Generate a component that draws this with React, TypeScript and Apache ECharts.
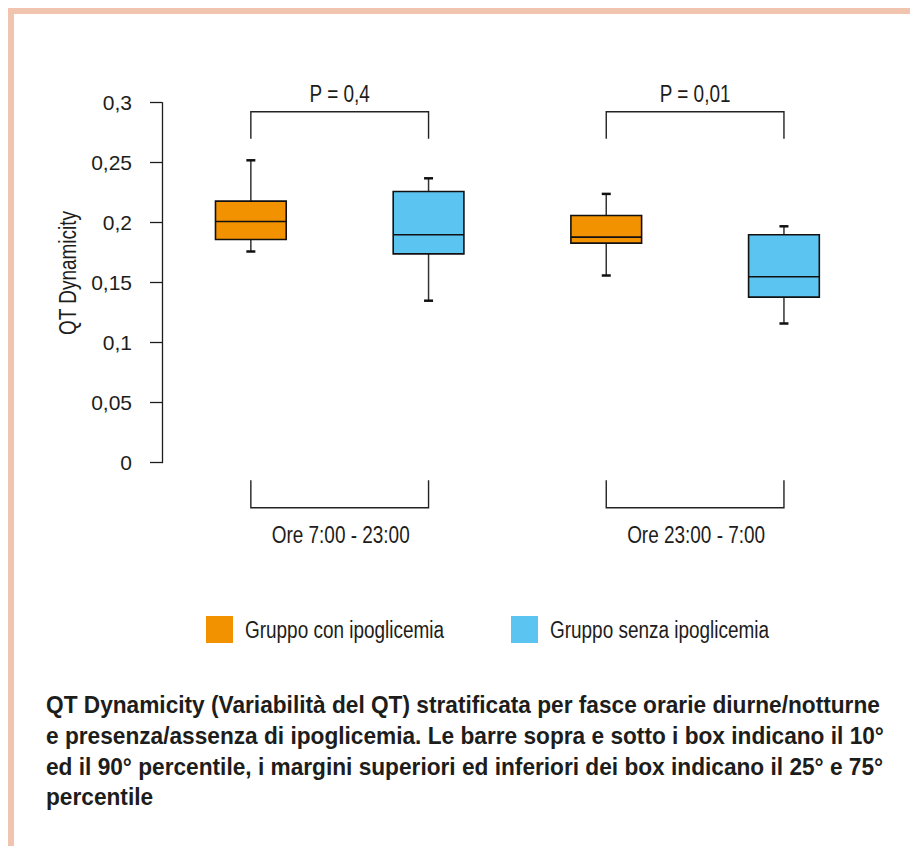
import React, { useEffect, useRef } from "react";
import * as echarts from "echarts";

const FAMILY = "'Liberation Sans', Arial, sans-serif";
const REG_FONT = `23px ${FAMILY}`;
const BOLD_FONT = `bold 23px ${FAMILY}`;
const INK = "#1d1d1b";

// Box slots on the category axis (one box per slot)
const boxSlots = ["7-23 con", "7-23 senza", "23-7 con", "23-7 senza"];
// Time-band group labels (one per pair of slots)
const periods = ["Ore 7:00 - 23:00", "Ore 23:00 - 7:00"];
const groups = ["Gruppo con ipoglicemia", "Gruppo senza ipoglicemia"];
const groupColors = ["#f39200", "#5bc4f1"];

// Gruppo con ipoglicemia (slots 0 and 2)
const conSlots = [0, 2];
const conP10 = [0.176, 0.156];
const conQ1 = [0.186, 0.183];
const conMedian = [0.201, 0.188];
const conQ3 = [0.218, 0.206];
const conP90 = [0.252, 0.224];

// Gruppo senza ipoglicemia (slots 1 and 3)
const senzaSlots = [1, 3];
const senzaP10 = [0.135, 0.116];
const senzaQ1 = [0.174, 0.138];
const senzaMedian = [0.19, 0.155];
const senzaQ3 = [0.226, 0.19];
const senzaP90 = [0.237, 0.197];

// Significance brackets (pairs of slots) and their labels
const bracketPairs = [
  [0, 1],
  [2, 3],
];
const pValues = ["P = 0,4", "P = 0,01"];
const bracketLevel = 0.2925;
const bracketFoot = 0.27;

const captionLines = [
  "QT Dynamicity (Variabilità del QT) stratificata per fasce orarie diurne/notturne",
  "e presenza/assenza di ipoglicemia. Le barre sopra e sotto i box indicano il 10°",
  "ed il 90° percentile, i margini superiori ed inferiori dei box indicano il 25° e 75°",
  "percentile",
];

const yMin = 0;
const yMax = 0.3;
const yStep = 0.05;

function textWidth(text: string, font: string): number {
  const ctx = document.createElement("canvas").getContext("2d");
  if (!ctx) return text.length * 10;
  ctx.font = font;
  return ctx.measureText(text).width;
}

function buildRows(slots: number[], p10: number[], q1: number[], med: number[], q3: number[], p90: number[]) {
  return slots.map((s, i) => [s, p10[i], q1[i], med[i], q3[i], p90[i]]);
}

function renderBox(color: string) {
  return (params: any, api: any) => {
    const x = api.value(0);
    const lo = api.coord([x, api.value(1)]);
    const q1 = api.coord([x, api.value(2)]);
    const md = api.coord([x, api.value(3)]);
    const q3 = api.coord([x, api.value(4)]);
    const hi = api.coord([x, api.value(5)]);
    const w = api.size([1, 0])[0] * 0.398;
    const cx = md[0];
    const cap = 4.5;
    return {
      type: "group",
      children: [
        { type: "line", shape: { x1: cx, y1: hi[1], x2: cx, y2: lo[1] }, style: { stroke: "#333", lineWidth: 1.5 } },
        { type: "line", shape: { x1: cx - cap, y1: hi[1], x2: cx + cap, y2: hi[1] }, style: { stroke: "#111", lineWidth: 2.5 } },
        { type: "line", shape: { x1: cx - cap, y1: lo[1], x2: cx + cap, y2: lo[1] }, style: { stroke: "#111", lineWidth: 2.5 } },
        {
          type: "rect",
          shape: { x: cx - w / 2, y: q3[1], width: w, height: q1[1] - q3[1] },
          style: { fill: color, stroke: "#111", lineWidth: 1.6 },
        },
        { type: "line", shape: { x1: cx - w / 2, y1: md[1], x2: cx + w / 2, y2: md[1] }, style: { stroke: "#111", lineWidth: 1.6 } },
      ],
    };
  };
}

export default function App() {
  const ref = useRef<HTMLDivElement>(null);
  useEffect(() => {
    const chart = echarts.init(ref.current!, null, { renderer: "svg" });
    // condensed look: horizontal scale so texts match the reference widths
    const regScale = 138 / textWidth(periods[0], REG_FONT);
    const boldScale = 834 / textWidth(captionLines[0], BOLD_FONT);

    const regText = (text: string, x: number, y: number, align: string, extra: any = {}) => ({
      type: "text",
      x,
      y,
      scaleX: regScale,
      ...extra,
      style: { text, font: REG_FONT, fill: INK, align, verticalAlign: "middle" },
    });

    const renderBracket = (params: any, api: any) => {
      const a = api.value(0);
      const b = api.value(1);
      const ta = api.coord([a, bracketLevel]);
      const tb = api.coord([b, bracketLevel]);
      const fa = api.coord([a, bracketFoot]);
      const base = api.coord([a, 0])[1];
      const stroke = { stroke: "#222", lineWidth: 1.4, fill: "none" };
      const mid = (ta[0] + tb[0]) / 2;
      return {
        type: "group",
        children: [
          {
            type: "polyline",
            shape: { points: [[ta[0], fa[1]], [ta[0], ta[1]], [tb[0], tb[1]], [tb[0], fa[1]]] },
            style: stroke,
          },
          regText(pValues[params.dataIndex], mid, ta[1] - 18, "center"),
          {
            type: "polyline",
            shape: { points: [[ta[0], base + 17.5], [ta[0], base + 45], [tb[0], base + 45], [tb[0], base + 17.5]] },
            style: stroke,
          },
          regText(periods[params.dataIndex], mid + 1, base + 72.5, "center"),
        ],
      };
    };

    const legendX = [206, 511];
    const legendTextX = [245, 550];

    const option: any = {
      animation: false,
      backgroundColor: "#ffffff",
      grid: { left: 162, top: 102.7, width: 710.8, height: 360 },
      xAxis: {
        type: "category",
        data: boxSlots,
        show: false,
      },
      yAxis: {
        type: "value",
        min: yMin,
        max: yMax,
        interval: yStep,
        axisLine: { show: true, lineStyle: { color: INK, width: 1.3 } },
        axisTick: { show: true, length: 12, lineStyle: { color: INK, width: 1.3 } },
        splitLine: { show: false },
        axisLabel: {
          margin: 30,
          fontFamily: "'Liberation Sans', Arial, sans-serif",
          fontSize: 21,
          color: INK,
          formatter: (v: number) => String(Math.round(v * 100) / 100).replace(".", ","),
        },
      },
      graphic: [
        { type: "rect", shape: { x: 8, y: 8, width: 902, height: 6 }, style: { fill: "#f1c4b0" } },
        { type: "rect", shape: { x: 8, y: 8, width: 6, height: 838 }, style: { fill: "#f1c4b0" } },
        regText("QT Dynamicity", 68, 273, "center", { rotation: Math.PI / 2 }),
        ...groups.flatMap((g, i) => [
          { type: "rect", shape: { x: legendX[i], y: 616, width: 27, height: 27 }, style: { fill: groupColors[i] } },
          regText(g, legendTextX[i], 629.5, "left"),
        ]),
        ...captionLines.map((t, i) => ({
          type: "text",
          x: 46,
          y: 705.3 + i * 30.7,
          scaleX: boldScale,
          style: { text: t, font: BOLD_FONT, fill: INK, align: "left", verticalAlign: "middle" },
        })),
      ],
      series: [
        {
          name: groups[0],
          type: "custom",
          itemStyle: { color: groupColors[0] },
          encode: { x: 0, y: [1, 2, 3, 4, 5] },
          data: buildRows(conSlots, conP10, conQ1, conMedian, conQ3, conP90),
          renderItem: renderBox(groupColors[0]),
        },
        {
          name: groups[1],
          type: "custom",
          itemStyle: { color: groupColors[1] },
          encode: { x: 0, y: [1, 2, 3, 4, 5] },
          data: buildRows(senzaSlots, senzaP10, senzaQ1, senzaMedian, senzaQ3, senzaP90),
          renderItem: renderBox(groupColors[1]),
        },
        {
          name: "brackets",
          type: "custom",
          clip: false,
          silent: true,
          encode: { x: [0, 1] },
          data: bracketPairs,
          renderItem: renderBracket,
        },
      ],
    };
    chart.setOption(option);
    return () => chart.dispose();
  }, []);
  return (
    <div
      ref={ref}
      style={{ position: "fixed", left: 0, top: 0, width: 910, height: 846, background: "#fff" }}
    />
  );
}
